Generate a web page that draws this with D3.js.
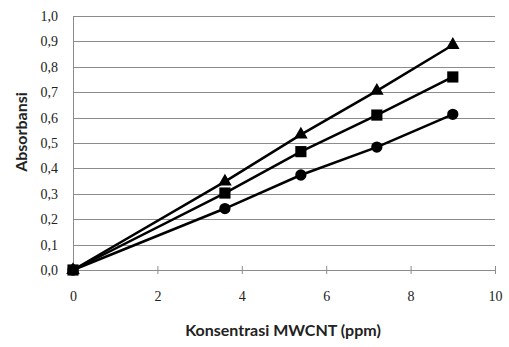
<!DOCTYPE html>
<html>
<head>
<meta charset="utf-8">
<script src="https://cdn.jsdelivr.net/npm/d3@7"></script>
<style>
  body { margin: 0; background: #fff; }
</style>
</head>
<body>
<div id="chart"></div>
<script>
const concentrations = [0, 3.6, 5.4, 7.2, 9.0];
const triangleSeries = [0, 0.348, 0.533, 0.705, 0.886];
const squareSeries = [0, 0.303, 0.466, 0.610, 0.760];
const circleSeries = [0, 0.242, 0.374, 0.484, 0.613];
const xTicks = [0, 2, 4, 6, 8, 10];
const yTicks = [0, 0.1, 0.2, 0.3, 0.4, 0.5, 0.6, 0.7, 0.8, 0.9, 1.0];

// square drawn last so it sits on top at the origin
const series = [
    { name: "triangle", values: triangleSeries, symbol: d3.symbolTriangle, size: 80 },
    { name: "circle", values: circleSeries, symbol: d3.symbolCircle, size: 100 },
    { name: "square", values: squareSeries, symbol: d3.symbolSquare, size: 125 }
];

const W = 509, H = 347;
const margin = { top: 16, right: 14, bottom: 77, left: 73 };
const width = W - margin.left - margin.right;
const height = H - margin.top - margin.bottom;

const svg = d3.select("#chart").append("svg")
    .attr("width", W)
    .attr("height", H);

const g = svg.append("g")
    .attr("transform", `translate(${margin.left}, ${margin.top})`);

const xScale = d3.scaleLinear().domain([0, 10]).range([0, width]);
const yScale = d3.scaleLinear().domain([0, 1]).range([height, 0]);

const fmt = d => d3.format(".1f")(d).replace(".", ",");

// gridlines
g.selectAll(".grid")
    .data(yTicks)
    .enter()
    .append("line")
    .attr("x1", 0)
    .attr("x2", width)
    .attr("y1", d => Math.round(yScale(d)) + 0.5)
    .attr("y2", d => Math.round(yScale(d)) + 0.5)
    .attr("stroke", "#8c8c8c")
    .attr("stroke-width", 1);

// y axis
const yAxis = d3.axisLeft(yScale)
    .tickValues(yTicks)
    .tickSize(0)
    .tickPadding(15)
    .tickFormat(fmt);

const yg = g.append("g").call(yAxis);
yg.select(".domain").attr("stroke", "#8c8c8c");
yg.selectAll("text")
    .style("font-family", "'Liberation Serif', 'DejaVu Serif', serif")
    .style("font-size", "14px")
    .attr("fill", "#222");

// x axis
const xAxis = d3.axisBottom(xScale)
    .tickValues(xTicks)
    .tickSize(4)
    .tickPadding(17)
    .tickFormat(d3.format("d"));

const xg = g.append("g")
    .attr("transform", `translate(0, ${height})`)
    .call(xAxis);
xg.select(".domain").remove();
xg.selectAll(".tick line")
    .attr("y1", -4)
    .attr("stroke", "#8c8c8c");
xg.selectAll("text")
    .style("font-family", "'Liberation Serif', 'DejaVu Serif', serif")
    .style("font-size", "14px")
    .attr("fill", "#222");

// lines
const line = d3.line()
    .x((d, i) => xScale(concentrations[i]))
    .y(d => yScale(d));

series.forEach(s => {
    g.append("path")
        .datum(s.values)
        .attr("d", line)
        .attr("fill", "none")
        .attr("stroke", "#000")
        .attr("stroke-width", 2.5);
});

// markers
series.forEach(s => {
    g.selectAll(".mk-" + s.name)
        .data(s.values)
        .enter()
        .append("path")
        .attr("class", "mk-" + s.name)
        .attr("transform", (d, i) => `translate(${xScale(concentrations[i])}, ${yScale(d)})`)
        .attr("d", d3.symbol().type(s.symbol).size(s.size))
        .attr("fill", "#000");
});

// axis titles
svg.append("text")
    .attr("x", 283)
    .attr("y", 336)
    .style("text-anchor", "middle")
    .style("font-family", "Lato, sans-serif")
    .style("font-weight", "bold")
    .style("font-size", "16px")
    .attr("fill", "#222")
    .text("Konsentrasi MWCNT (ppm)");

svg.append("text")
    .attr("transform", "rotate(-90)")
    .attr("x", -132)
    .attr("y", 27)
    .style("text-anchor", "middle")
    .style("font-family", "Lato, sans-serif")
    .style("font-weight", "bold")
    .style("font-size", "16px")
    .attr("fill", "#222")
    .text("Absorbansi");
</script>
</body>
</html>
